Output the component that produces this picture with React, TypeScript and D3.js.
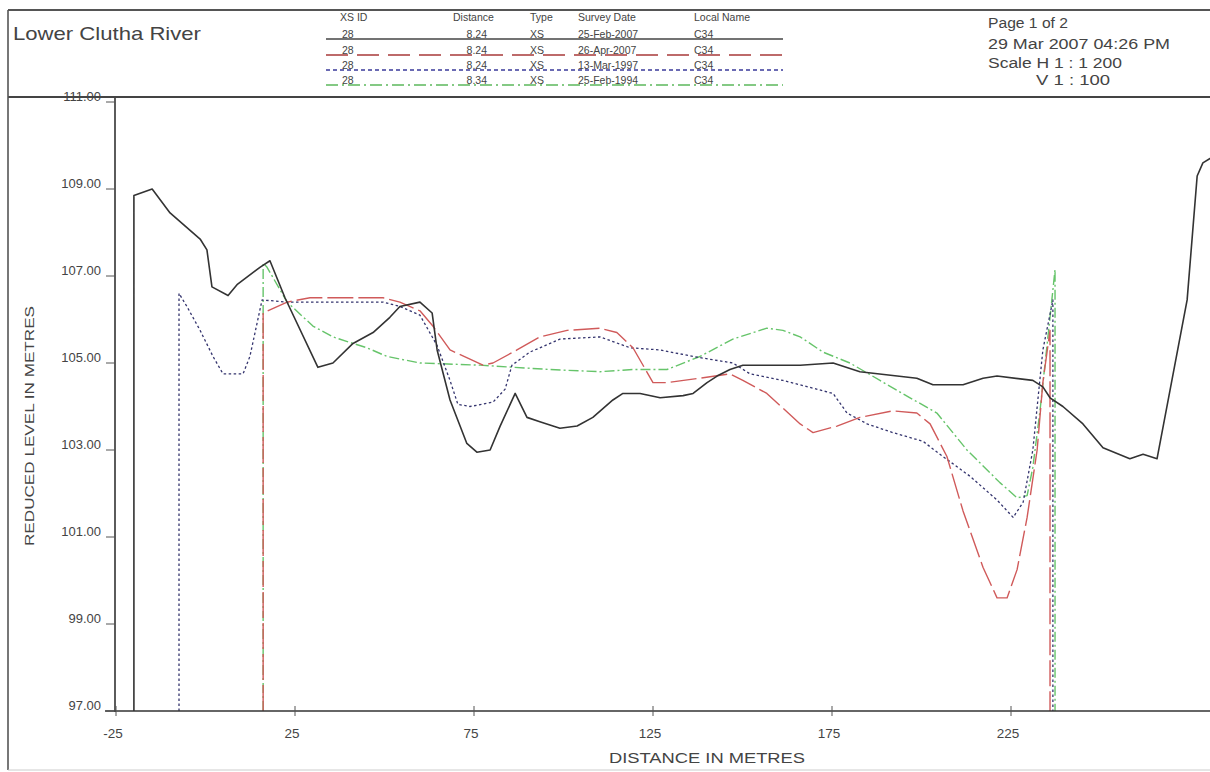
import React from "react";
import * as d3 from "d3";

// ---- data (distance in metres, reduced level in metres) ----
const feb2007: [number, number][] = [
  [-20, 97], [-20, 108.85], [-14.9, 109.0], [-9.9, 108.45], [-1.5, 107.85], [0.4, 107.6],
  [1.8, 106.75], [6.3, 106.55], [8.8, 106.8], [15.2, 107.2], [18.0, 107.35], [22.2, 106.5],
  [31.4, 104.9], [35.6, 105.0], [41.2, 105.45], [46.8, 105.7], [51.5, 106.05], [54.3, 106.3],
  [59.9, 106.4], [63.3, 106.15], [64.7, 105.3], [68.3, 104.15], [73.0, 103.15], [75.8, 102.95],
  [79.5, 103.0], [82.3, 103.55], [86.5, 104.3], [89.8, 103.75], [93.4, 103.65], [99.0, 103.5],
  [103.8, 103.55], [108.2, 103.75], [113.8, 104.15], [116.6, 104.3], [121.4, 104.3], [127.0, 104.2],
  [133.4, 104.25], [136.2, 104.3], [140.1, 104.55], [142.9, 104.7], [146.5, 104.85], [150.1, 104.95],
  [166.1, 104.95], [175.3, 105.0], [182.8, 104.8], [193.2, 104.7], [198.7, 104.65], [203.2, 104.5],
  [211.6, 104.5], [217.2, 104.65], [221.1, 104.7], [231.1, 104.6], [233.9, 104.45], [235.9, 104.2],
  [239.5, 104.0], [245.1, 103.6], [250.7, 103.05], [258.2, 102.8], [261.9, 102.9], [265.8, 102.8],
  [274.2, 106.45], [277.0, 109.3], [278.6, 109.6], [280.6, 109.7], [283.0, 109.75],
];

const apr2007: [number, number][] = [
  [16.1, 97], [16.1, 106.15], [22.8, 106.4], [29.2, 106.5], [49.6, 106.5], [54.3, 106.4],
  [59.9, 106.2], [63.5, 105.85], [68.3, 105.3], [77.5, 104.95], [80.3, 105.0], [87.0, 105.3],
  [93.4, 105.6], [101.0, 105.75], [110.2, 105.8], [114.9, 105.7], [119.4, 105.35], [125.0, 104.55],
  [128.9, 104.55], [138.1, 104.65], [146.5, 104.75], [150.1, 104.6], [156.8, 104.3], [166.1, 103.6],
  [169.7, 103.4], [176.4, 103.55], [182.8, 103.75], [192.0, 103.9], [198.7, 103.85], [202.4, 103.6],
  [207.1, 102.85], [211.6, 101.6], [217.2, 100.3], [221.1, 99.6], [223.9, 99.6], [226.7, 100.25],
  [229.5, 101.45], [232.3, 103.0], [233.9, 104.55], [235.9, 105.75], [235.9, 97],
];

const mar1997: [number, number][] = [
  [-7.4, 97], [-7.4, 106.6], [-5.2, 106.3], [-1.5, 105.75], [2.1, 105.15], [4.9, 104.75],
  [10.5, 104.75], [12.4, 105.15], [15.8, 106.45], [22.8, 106.4], [49.6, 106.4], [54.3, 106.3],
  [59.9, 106.1], [64.7, 105.4], [68.3, 104.6], [70.5, 104.05], [73.9, 104.0], [80.3, 104.1],
  [83.7, 104.4], [85.6, 104.95], [90.6, 105.25], [99.0, 105.55], [110.2, 105.6], [118.6, 105.35],
  [127.0, 105.3], [136.2, 105.15], [147.3, 105.0], [152.1, 104.75], [161.3, 104.6], [175.3, 104.3],
  [179.2, 103.85], [184.8, 103.6], [192.0, 103.4], [200.4, 103.2], [206.0, 102.85], [213.5, 102.4],
  [221.1, 101.85], [225.6, 101.45], [228.4, 101.8], [231.1, 103.0], [233.9, 105.3], [236.7, 106.45],
  [236.7, 97],
];

const feb1994: [number, number][] = [
  [16.1, 97], [16.1, 107.3], [17.2, 107.2], [22.8, 106.4], [30.0, 105.85], [35.6, 105.6],
  [41.2, 105.45], [45.1, 105.35], [50.7, 105.15], [59.9, 105.0], [76.7, 104.95], [96.2, 104.85],
  [110.2, 104.8], [119.4, 104.85], [128.9, 104.85], [138.1, 105.15], [147.3, 105.55], [156.8, 105.8],
  [161.3, 105.75], [166.1, 105.6], [172.5, 105.25], [180.0, 105.0], [188.4, 104.6], [196.8, 104.2],
  [204.3, 103.85], [212.7, 103.0], [221.9, 102.25], [226.7, 101.9], [229.5, 101.95], [231.1, 102.6],
  [233.1, 103.9], [235.9, 106.05], [237.3, 107.15], [237.3, 97],
];

const xTicks = [-25, 25, 75, 125, 175, 225];
const yTicks = [97, 99, 101, 103, 105, 107, 109, 111];

const legendIds = ["28", "28", "28", "28"];
const legendDistances = ["8.24", "8.24", "8.24", "8.34"];
const legendTypes = ["XS", "XS", "XS", "XS"];
const legendDates = ["25-Feb-2007", "26-Apr-2007", "13-Mar-1997", "25-Feb-1994"];
const legendNames = ["C34", "C34", "C34", "C34"];

const seriesList = [
  { data: feb1994, color: "#66c46a", dash: "10,3,2,3", width: 1.4 },
  { data: mar1997, color: "#34346e", dash: "2.5,2.5", width: 1.3 },
  { data: apr2007, color: "#d05a5a", dash: "26,5", width: 1.4 },
  { data: feb2007, color: "#333333", dash: "", width: 1.6 },
];
const legendStyles = [
  { color: "#444444", dash: "" },
  { color: "#a83a3a", dash: "22,9" },
  { color: "#3a3a9a", dash: "4,3" },
  { color: "#5cb85c", dash: "12,4,2,4" },
];

const FONT = "'Liberation Sans', Arial, sans-serif";

export default function App() {
  const x = d3.scaleLinear().domain([-25, 225]).range([116, 1011]);
  const y = d3.scaleLinear().domain([97, 111]).range([711, 102]);
  const line = d3
    .line<[number, number]>()
    .x((d) => x(d[0]))
    .y((d) => y(d[1]))
    .curve(d3.curveLinear);

  const rowY = [35, 51, 66, 81];

  return (
    <svg
      width={1210}
      height={772}
      style={{ position: "absolute", left: 0, top: 0, background: "#fff" }}
      fontFamily={FONT}
    >
      <defs>
        <clipPath id="plot">
          <rect x={115} y={97} width={1100} height={615} />
        </clipPath>
      </defs>
      <rect width={1210} height={772} fill="#fff" />

      {/* series */}
      <g clipPath="url(#plot)">
        {seriesList.map((s, i) => (
          <path
            key={i}
            d={line(s.data) || ""}
            fill="none"
            stroke={s.color}
            strokeWidth={s.width}
            strokeDasharray={s.dash || undefined}
            strokeLinejoin="round"
          />
        ))}
      </g>

      {/* axes */}
      <line x1={115} x2={115} y1={97} y2={712} stroke="#333" strokeWidth={1.6} />
      <line x1={105} x2={1210} y1={711} y2={711} stroke="#333" strokeWidth={1.6} />
      {xTicks.map((t) => (
        <g key={t}>
          <line x1={x(t)} x2={x(t)} y1={706} y2={716} stroke="#555" strokeWidth={1} />
          <text x={x(t) - 3} y={738} textAnchor="middle" fontSize={13.5} fill="#444">
            {t}
          </text>
        </g>
      ))}
      <text x={707} y={763} textAnchor="middle" fontSize={14} fill="#444" textLength={196} lengthAdjust="spacingAndGlyphs">
        DISTANCE IN METRES
      </text>
      <text
        transform="translate(34,426) rotate(-90)"
        textAnchor="middle"
        fontSize={13}
        fill="#444"
        textLength={240}
        lengthAdjust="spacingAndGlyphs"
      >
        REDUCED LEVEL IN METRES
      </text>

      {/* header */}
      <rect x={8} y={10} width={1210} height={86} fill="#fff" />
      <line x1={8} x2={1210} y1={10} y2={10} stroke="#555" strokeWidth={2} />
      <line x1={8} x2={1210} y1={97} y2={97} stroke="#444" strokeWidth={2.2} />
      <line x1={8} x2={8} y1={10} y2={770} stroke="#555" strokeWidth={1.6} />
      <line x1={8} x2={1210} y1={770} y2={770} stroke="#ccc" strokeWidth={1} />

      {/* y ticks and labels */}
      {yTicks.map((t) => (
        <g key={t}>
          <text x={101} y={y(t) - 1} textAnchor="end" fontSize={13} fill="#444">
            {t.toFixed(2)}
          </text>
          <line x1={106} x2={115} y1={y(t)} y2={y(t)} stroke="#555" strokeWidth={1} />
        </g>
      ))}

      <text x={13} y={40} fontSize={19} fill="#444" textLength={188} lengthAdjust="spacingAndGlyphs">
        Lower Clutha River
      </text>

      {/* legend table */}
      <g fontSize={10.5} fill="#444">
        <text x={340} y={21}>XS ID</text>
        <text x={453} y={21}>Distance</text>
        <text x={530} y={21}>Type</text>
        <text x={578} y={21}>Survey Date</text>
        <text x={694} y={21}>Local Name</text>
        {rowY.map((ry, i) => (
          <g key={i}>
            <line
              x1={326}
              x2={783}
              y1={ry + 4}
              y2={ry + 4}
              stroke={legendStyles[i].color}
              strokeWidth={1.4}
              strokeDasharray={legendStyles[i].dash || undefined}
            />
            <text x={342} y={ry + 3}>{legendIds[i]}</text>
            <text x={487} y={ry + 3} textAnchor="end">{legendDistances[i]}</text>
            <text x={530} y={ry + 3}>{legendTypes[i]}</text>
            <text x={578} y={ry + 3}>{legendDates[i]}</text>
            <text x={694} y={ry + 3}>{legendNames[i]}</text>
          </g>
        ))}
      </g>

      {/* right header info */}
      <g fontSize={14} fill="#444">
        <text x={988} y={28} textLength={80} lengthAdjust="spacingAndGlyphs">Page 1 of 2</text>
        <text x={988} y={49} textLength={182} lengthAdjust="spacingAndGlyphs">29 Mar 2007 04:26 PM</text>
        <text x={988} y={68} textLength={134} lengthAdjust="spacingAndGlyphs">Scale H 1 : 1 200</text>
        <text x={1036} y={85} textLength={74} lengthAdjust="spacingAndGlyphs">V 1 : 100</text>
      </g>
    </svg>
  );
}
